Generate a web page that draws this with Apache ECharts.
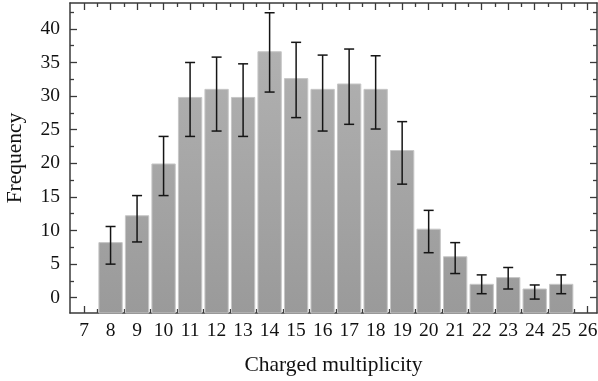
<!DOCTYPE html>
<html><head><meta charset="utf-8">
<script src="https://cdn.jsdelivr.net/npm/echarts@6/dist/echarts.min.js"></script>
<style>html,body{margin:0;padding:0;background:#fff}#c{width:598px;height:381px}</style>
</head><body><div id="c"></div>
<script>
const multiplicity = [8, 9, 10, 11, 12, 13, 14, 15, 16, 17, 18, 19, 20, 21, 22, 23, 24, 25];
const frequency    = [8.2, 12.2, 19.9, 29.8, 31.0, 29.8, 36.6, 32.6, 31.0, 31.8, 31.0, 21.9, 10.2, 6.1, 2.0, 3.0, 1.3, 2.0];
const errLow       = [5.0, 8.3, 15.2, 24.0, 24.8, 24.0, 30.6, 26.8, 24.8, 25.8, 25.1, 16.9, 6.7, 3.6, 0.6, 1.3, -0.2, 0.6];
const errHigh      = [10.6, 15.2, 24.0, 35.0, 35.8, 34.8, 42.4, 38.0, 36.1, 37.0, 36.0, 26.2, 13.0, 8.2, 3.4, 4.5, 1.9, 3.4];
const xTicks = [7, 8, 9, 10, 11, 12, 13, 14, 15, 16, 17, 18, 19, 20, 21, 22, 23, 24, 25, 26];
const xMinorTicks = [7.5, 8.5, 9.5, 10.5, 11.5, 12.5, 13.5, 14.5, 15.5, 16.5, 17.5, 18.5, 19.5, 20.5, 21.5, 22.5, 23.5, 24.5, 25.5];
const yTicks = [0, 5, 10, 15, 20, 25, 30, 35, 40];
const yMinorTicks = [2.5, 7.5, 12.5, 17.5, 22.5, 27.5, 32.5, 37.5, 42.5];
const xTitle = 'Charged multiplicity';
const yTitle = 'Frequency';

const X_MIN = 6.47, X_MAX = 26.35, Y_MIN = -2.27, Y_MAX = 43.85;
const FONT = 'Liberation Serif';
const lineC = '#3a3a3a';

function xAx(pos, ticks, len, showLine, showLabel, extra) {
  return Object.assign({
    type: 'value', position: pos, min: X_MIN, max: X_MAX,
    axisLine: { show: showLine, onZero: false, lineStyle: { color: lineC, width: 1.5 } },
    axisTick: { show: true, inside: true, length: len, customValues: ticks, lineStyle: { color: lineC, width: 1.3 } },
    axisLabel: { show: showLabel, customValues: ticks, fontFamily: FONT, fontSize: 19.5, color: '#111', margin: 8 },
    splitLine: { show: false }
  }, extra || {});
}
function yAx(pos, ticks, len, showLine, showLabel, extra) {
  return Object.assign({
    type: 'value', position: pos, min: Y_MIN, max: Y_MAX,
    axisLine: { show: showLine, onZero: false, lineStyle: { color: lineC, width: 1.5 } },
    axisTick: { show: true, inside: true, length: len, customValues: ticks, lineStyle: { color: lineC, width: 1.3 } },
    axisLabel: { show: showLabel, customValues: ticks, fontFamily: FONT, fontSize: 19.5, color: '#111', margin: 10 },
    splitLine: { show: false }
  }, extra || {});
}

const barData = multiplicity.map((m, i) => [m, frequency[i]]);
const errData = multiplicity.map((m, i) => [m, errLow[i], errHigh[i]]);

const grad = new echarts.graphic.LinearGradient(0, 3, 0, 313, [
  { offset: 0, color: '#b5b5b5' }, { offset: 1, color: '#9a9a9a' }
], true);

const chart = echarts.init(document.getElementById('c'), null, { renderer: 'canvas' });
chart.setOption({
  animation: false,
  backgroundColor: '#fff',
  grid: { left: 70, right: 1, top: 3, bottom: 68, containLabel: false, outerBoundsMode: 'none' },
  xAxis: [
    xAx('bottom', xTicks, 7, true, true, {
      name: xTitle, nameLocation: 'middle', nameGap: 41,
      nameTextStyle: { fontFamily: FONT, fontSize: 21.5, color: '#111' }
    }),
    xAx('bottom', xMinorTicks, 4, false, false),
    xAx('top', xTicks, 7, true, false),
    xAx('top', xMinorTicks, 4, false, false)
  ],
  yAxis: [
    yAx('left', yTicks, 7, true, true, {
      name: yTitle, nameLocation: 'middle', nameGap: 44,
      nameTextStyle: { fontFamily: FONT, fontSize: 21.5, color: '#111' }
    }),
    yAx('left', yMinorTicks, 4, false, false),
    yAx('right', yTicks, 7, true, false),
    yAx('right', yMinorTicks, 4, false, false)
  ],
  series: [
    {
      type: 'custom', xAxisIndex: 0, yAxisIndex: 0, data: barData, z: 1,
      renderItem: function (params, api) {
        const x = api.value(0), y = api.value(1);
        const p0 = api.coord([x - 0.44, Y_MIN]);
        const p1 = api.coord([x + 0.44, y]);
        return {
          type: 'rect',
          shape: { x: p0[0], y: p1[1], width: p1[0] - p0[0], height: p0[1] - p1[1] },
          style: { fill: grad, stroke: '#c6c6c6', lineWidth: 1 }
        };
      }
    },
    {
      type: 'custom', xAxisIndex: 0, yAxisIndex: 0, data: errData, z: 2,
      renderItem: function (params, api) {
        const x = api.value(0);
        const lo = api.coord([x, api.value(1)]);
        const hi = api.coord([x, api.value(2)]);
        const w = 5;
        const st = { stroke: '#151515', lineWidth: 1.5 };
        return {
          type: 'group',
          children: [
            { type: 'line', shape: { x1: lo[0], y1: lo[1], x2: hi[0], y2: hi[1] }, style: st },
            { type: 'line', shape: { x1: lo[0] - w, y1: lo[1], x2: lo[0] + w, y2: lo[1] }, style: st },
            { type: 'line', shape: { x1: hi[0] - w, y1: hi[1], x2: hi[0] + w, y2: hi[1] }, style: st }
          ]
        };
      }
    }
  ]
});
</script>
</body></html>
